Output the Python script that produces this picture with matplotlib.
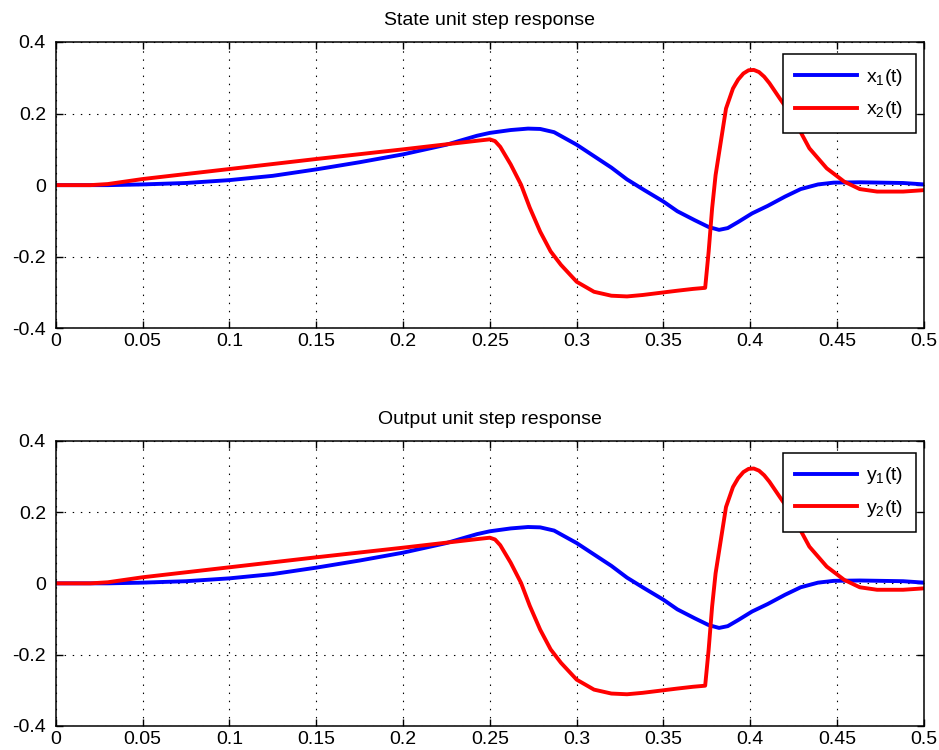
#!/usr/bin/env python3
from matplotlib import pyplot as plt

plt.rcParams['font.family'] = ['Liberation Sans', 'DejaVu Sans']
plt.rcParams['mathtext.default'] = 'regular'

# time points and state values
t_x1 = [0, 0.03, 0.05, 0.075, 0.1, 0.125, 0.15, 0.175, 0.2, 0.225, 0.2426,
        0.25, 0.262, 0.272, 0.279, 0.287, 0.3, 0.31, 0.32, 0.329, 0.339,
        0.35, 0.358, 0.368, 0.376, 0.382, 0.387, 0.393, 0.401, 0.41, 0.42,
        0.429, 0.439, 0.448, 0.463, 0.488, 0.5]
x1 = [0, 0, 0.002, 0.006, 0.014, 0.026, 0.044, 0.064, 0.086, 0.113, 0.138,
      0.146, 0.154, 0.158, 0.157, 0.148, 0.113, 0.081, 0.049, 0.016, -0.014,
      -0.046, -0.073, -0.098, -0.117, -0.125, -0.12, -0.103, -0.079, -0.058,
      -0.032, -0.011, 0.002, 0.007, 0.008, 0.006, 0.002]

t_x2 = [0, 0.02, 0.03, 0.05, 0.1, 0.15, 0.2, 0.2426, 0.25, 0.253, 0.256,
        0.262, 0.268, 0.273, 0.279, 0.285, 0.291, 0.3, 0.31, 0.32, 0.329,
        0.338, 0.348, 0.358, 0.367, 0.374, 0.376, 0.378, 0.38, 0.383, 0.386,
        0.39, 0.393, 0.396, 0.399, 0.402, 0.405, 0.408, 0.411, 0.417, 0.425,
        0.429, 0.434, 0.444, 0.454, 0.463, 0.473, 0.488, 0.5]
x2 = [0, 0, 0.003, 0.017, 0.045, 0.073, 0.1, 0.124, 0.128, 0.123, 0.107,
      0.058, 0.001, -0.063, -0.13, -0.185, -0.223, -0.27, -0.298, -0.309,
      -0.311, -0.307, -0.301, -0.295, -0.29, -0.287, -0.186, -0.065, 0.028,
      0.121, 0.214, 0.27, 0.295, 0.312, 0.321, 0.322, 0.316, 0.303, 0.285,
      0.242, 0.186, 0.148, 0.103, 0.047, 0.01, -0.011, -0.018, -0.018, -0.014]

# output equals the state (C = I)
y1 = list(x1)
y2 = list(x2)

x_ticks = [0, 0.05, 0.1, 0.15, 0.2, 0.25, 0.3, 0.35, 0.4, 0.45, 0.5]
x_ticklabels = ['0', '0.05', '0.1', '0.15', '0.2', '0.25', '0.3', '0.35',
                '0.4', '0.45', '0.5']
y_ticks = [-0.4, -0.2, 0, 0.2, 0.4]
y_ticklabels = ['-0.4', '-0.2', '0', '0.2', '0.4']

FS = 14


def draw_panel(ax, title, t_a, a, t_b, b, labels):
    """
    One MATLAB-looking subplot with two traces.
    """
    ax.plot(t_a, a, color='#0000ff', lw=2.8, label=labels[0])
    ax.plot(t_b, b, color='#ff0000', lw=2.8, label=labels[1])
    ax.set_xlim(0, 0.5)
    ax.set_ylim(-0.4, 0.4)
    ax.set_xticks(x_ticks)
    ax.set_xticklabels(x_ticklabels)
    ax.set_yticks(y_ticks)
    ax.set_yticklabels(y_ticklabels)
    ax.tick_params(direction='in', length=5, width=1, top=True, right=True,
                   labelsize=FS, colors='black')
    ax.tick_params(axis='x', pad=3.5)
    ax.tick_params(axis='y', pad=7)
    ax.grid(True, color='black', lw=0.8, linestyle=(0, (1.3, 6)))
    for sp in ax.spines.values():
        sp.set_linewidth(1.1)
    ax.set_title(title, fontsize=FS, pad=12)
    leg = ax.legend(loc='upper right', bbox_to_anchor=(0.9908, 0.958),
                    borderaxespad=0, fancybox=False, framealpha=1,
                    edgecolor='black', fontsize=FS, handlelength=3.2,
                    handletextpad=0.45, borderpad=0.65, labelspacing=0.6)
    leg.get_frame().set_linewidth(1.1)


def main():
    fig = plt.figure(figsize=(9.39, 7.5), dpi=100)
    ax_top = fig.add_axes([0.0593, 0.5623, 0.9247, 0.3817])
    ax_bot = fig.add_axes([0.0593, 0.032, 0.9247, 0.3804])

    draw_panel(ax_top, 'State unit step response', t_x1, x1, t_x2, x2,
               ['x$_1$(t)', 'x$_2$(t)'])
    draw_panel(ax_bot, 'Output unit step response', t_x1, y1, t_x2, y2,
               ['y$_1$(t)', 'y$_2$(t)'])

    fig.savefig('out.png', dpi=100)


if __name__ == "__main__":
    main()
